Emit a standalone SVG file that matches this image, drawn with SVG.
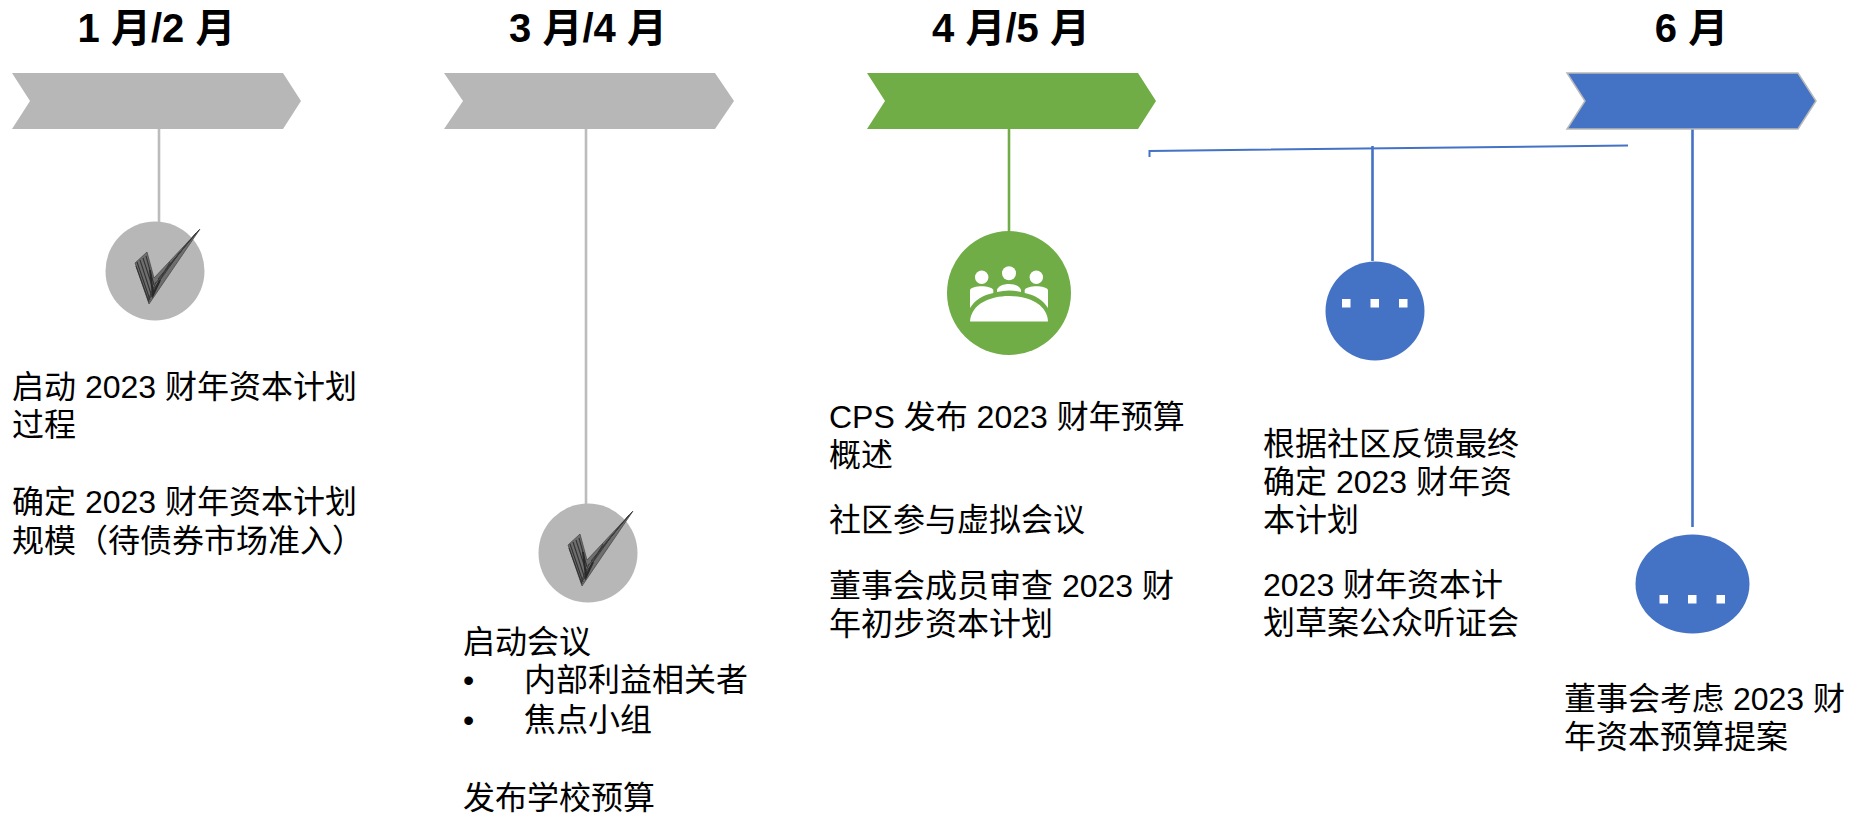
<svg xmlns="http://www.w3.org/2000/svg" width="1849" height="815" viewBox="0 0 1849 815">
<style>
text{font-family:"Liberation Sans","Noto Sans CJK SC",sans-serif;fill:#000}
.t{font-size:32px}
.h{font-size:40px;font-weight:bold;text-anchor:middle}
.conn{fill:none;stroke-width:2.600}
.g{fill:#b7b7b7}.gs{stroke:#bcbcbc}
.gr{fill:#70ad47}.grs{stroke:#70ad47}
.b{fill:#4472c4}.bs{stroke:#4472c4}
.w{fill:#fff}
</style>
<defs>
<g id="check">
<path d="M135 263L147 252L154 278L200 229L149 304Z" fill="#6e6e6e" stroke="#444" stroke-width=".7"/>
<path d="M137 262L150 300M140 260L152 297M143 258L154 292M146 256L154 285M136 266L149 302" fill="none" stroke="#333" stroke-width="1.100"/>
<path d="M148 300L156 282M150 298L170 262M153 290L180 252M155 284L190 240M158 279L196 233M165 270L199 230" fill="none" stroke="#3a3a3a" stroke-width="1"/>
<path d="M150 270L153 295L160 280" fill="none" stroke="#2a2a2a" stroke-width="2"/>
</g>
</defs>
<g id="connectors" class="conn">
<path class="gs" d="M159 129V222"/>
<path class="gs" d="M586 129V505"/>
<path class="grs" d="M1009 129V232"/>
<path class="bs" stroke-width="2" d="M1149.500 157V151L1628 145.500"/>
<path class="bs" d="M1372.500 146V261"/>
<path class="bs" d="M1692.500 129V527"/>
</g>
<g id="phase1"><text class="h" x="156.500" y="42">1 月/2 月</text><path class="g" d="M12 73H283L301 101L283 129H12L30 101Z"/></g>
<g id="phase2"><text class="h" x="588" y="42">3 月/4 月</text><path class="g" d="M444 73H715L734 101L715 129H444L463 101Z"/></g>
<g id="phase3"><text class="h" x="1011" y="42">4 月/5 月</text><path class="gr" d="M867 73H1138L1156 101L1138 129H867L885 101Z"/></g>
<g id="phase4"><text class="h" x="1691.500" y="42">6 月</text><path class="b" stroke="#b9b9b9" stroke-width="1.500" d="M1567 73H1798L1816 101L1798 129H1567L1585 101Z"/></g>
<g id="node1"><circle class="g" cx="155" cy="271" r="49.500"/><use href="#check"/></g>
<g id="node2"><circle class="g" cx="588" cy="553" r="49.500"/><use href="#check" x="433" y="282"/></g>
<g id="node3"><circle class="gr" cx="1009" cy="293" r="62"/>
<g class="w">
<circle cx="981.700" cy="277.300" r="6.700"/><circle cx="1009" cy="273.300" r="7"/><circle cx="1036.300" cy="277.300" r="6.700"/>
<path d="M970 290C972 285 991 285 993.300 290V293C983 295 975 300 970 308Z"/>
<path d="M997 290C999 282 1019 282 1021 290V292C1013 290 1005 290 997 292Z"/>
<path d="M1024.700 290C1027 285 1046 285 1048 290V308C1043 300 1035 295 1024.700 293Z"/>
<path d="M970 321.500C971 304 990 296 1009 296C1028 296 1047 304 1048 321.500Z"/>
</g></g>
<g id="node4"><circle class="b" cx="1375" cy="311" r="49.500"/><g class="w"><rect x="1342" y="299" width="8.500" height="8.500"/><rect x="1370.500" y="299" width="8.500" height="8.500"/><rect x="1399" y="299" width="8.500" height="8.500"/></g></g>
<g id="node5"><ellipse class="b" cx="1692.500" cy="584" rx="57" ry="49.500"/><g class="w"><rect x="1659.500" y="595" width="8.500" height="8.500"/><rect x="1688" y="595" width="8.500" height="8.500"/><rect x="1716.500" y="595" width="8.500" height="8.500"/></g></g>
<g id="text1" class="t"><text x="12" y="397.500">启动 2023 财年资本计划</text><text x="12" y="436">过程</text><text x="12" y="513">确定 2023 财年资本计划</text><text x="12" y="551.500">规模（待债券市场准入）</text></g>
<g id="text2" class="t"><text x="463" y="653">启动会议</text><text x="463" y="691">•</text><text x="524" y="691">内部利益相关者</text><text x="463" y="731">•</text><text x="524" y="731">焦点小组</text><text x="463" y="809">发布学校预算</text></g>
<g id="text3" class="t"><text x="829" y="428">CPS 发布 2023 财年预算</text><text x="829" y="466">概述</text><text x="829" y="531">社区参与虚拟会议</text><text x="829" y="597">董事会成员审查 2023 财</text><text x="829" y="635">年初步资本计划</text></g>
<g id="text4" class="t"><text x="1263" y="455">根据社区反馈最终</text><text x="1263" y="493">确定 2023 财年资</text><text x="1263" y="531">本计划</text><text x="1263" y="596">2023 财年资本计</text><text x="1263" y="634">划草案公众听证会</text></g>
<g id="text5" class="t"><text x="1564" y="710">董事会考虑 2023 财</text><text x="1564" y="748">年资本预算提案</text></g>
</svg>
